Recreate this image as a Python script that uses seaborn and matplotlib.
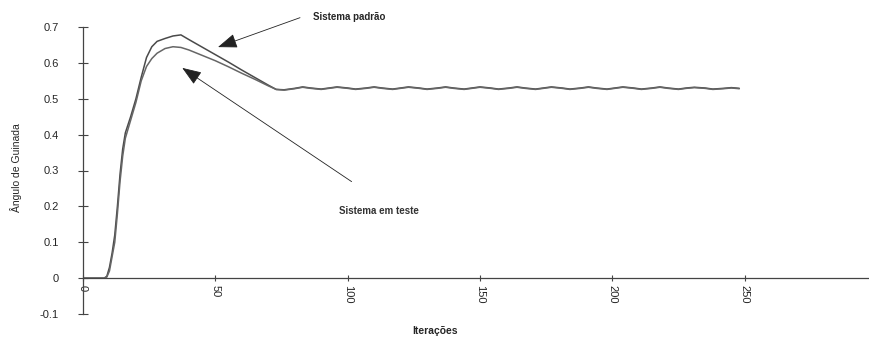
import pandas as pd
import matplotlib.pyplot as plt
import seaborn as sns

sns.set_style('white')
plt.rcParams['font.family'] = ['Liberation Sans', 'DejaVu Sans']

# iterations
iter_rise = [0, 5, 8, 9, 10, 11, 12, 13, 14, 15, 16, 18, 20, 22, 24, 26, 28, 31, 34, 37,
             40, 45, 50, 55, 60, 65, 70, 73]
padrao_rise = [0, 0, 0, 0.005, 0.03, 0.07, 0.12, 0.2, 0.29, 0.36, 0.405, 0.45, 0.5, 0.56,
               0.615, 0.645, 0.66, 0.668, 0.675, 0.678,
               0.665, 0.644, 0.623, 0.602, 0.58, 0.559, 0.538, 0.526]
teste_rise = [0, 0, 0, 0.003, 0.02, 0.06, 0.1, 0.18, 0.27, 0.34, 0.39, 0.44, 0.49, 0.55,
              0.59, 0.612, 0.627, 0.64, 0.645, 0.643,
              0.636, 0.621, 0.606, 0.589, 0.571, 0.554, 0.536, 0.526]

# the small steady-state wobble
iter_tail = [76, 80, 83, 86, 90, 93, 96, 100, 103, 107, 110, 113, 117, 120, 123, 127, 130,
             134, 137, 140, 144, 147, 150, 154, 157, 161, 164, 167, 171, 174, 177, 181, 184,
             188, 191, 194, 198, 201, 204, 208, 211, 215, 218, 221, 225, 228, 231, 235, 238,
             242, 245, 248]
padrao_tail = [0.525, 0.529, 0.533, 0.530, 0.527, 0.530, 0.533, 0.530, 0.527, 0.530, 0.533,
               0.530, 0.527, 0.530, 0.533, 0.530, 0.527, 0.530, 0.533, 0.530, 0.527, 0.530,
               0.533, 0.530, 0.527, 0.530, 0.533, 0.530, 0.527, 0.530, 0.533, 0.530, 0.527,
               0.530, 0.533, 0.530, 0.527, 0.530, 0.533, 0.530, 0.527, 0.530, 0.533, 0.530,
               0.527, 0.530, 0.532, 0.530, 0.527, 0.529, 0.531, 0.529]
teste_tail = [0.524, 0.528, 0.532, 0.529, 0.526, 0.529, 0.532, 0.529, 0.526, 0.529, 0.532,
              0.529, 0.526, 0.529, 0.532, 0.529, 0.526, 0.529, 0.532, 0.529, 0.526, 0.529,
              0.532, 0.529, 0.526, 0.529, 0.532, 0.529, 0.526, 0.529, 0.532, 0.529, 0.526,
              0.529, 0.532, 0.529, 0.526, 0.529, 0.532, 0.529, 0.526, 0.529, 0.532, 0.529,
              0.526, 0.529, 0.531, 0.529, 0.526, 0.528, 0.530, 0.528]

x_ticks = [0, 50, 100, 150, 200, 250]
y_ticks = [-0.1, 0, 0.1, 0.2, 0.3, 0.4, 0.5, 0.6, 0.7]

df = pd.DataFrame({
    'Iteracao': (iter_rise + iter_tail) * 2,
    'Angulo': padrao_rise + padrao_tail + teste_rise + teste_tail,
    'Sistema': ['padrao'] * (len(iter_rise) + len(iter_tail))
               + ['teste'] * (len(iter_rise) + len(iter_tail)),
})

fig = plt.figure(figsize=(8.69, 3.51), dpi=100)
ax = fig.add_axes([83 / 869, 1 - 314 / 351, 1 - 83 / 869, (314 - 27) / 351])

sns.lineplot(data=df, x='Iteracao', y='Angulo', hue='Sistema',
             palette={'padrao': '#4a4a4a', 'teste': '#666666'},
             linewidth=1.1, legend=False, ax=ax)

ax.set_xlim(0, 297)
ax.set_ylim(-0.1, 0.7)
ax.spines['top'].set_visible(False)
ax.spines['right'].set_visible(False)
ax.spines['bottom'].set_position(('data', 0))
ax.spines['bottom'].set_color('#444444')
ax.spines['left'].set_color('#444444')
ax.spines['bottom'].set_linewidth(0.9)
ax.spines['left'].set_linewidth(0.9)

ax.set_xticks(x_ticks)
ax.set_xticklabels([str(t) for t in x_ticks], rotation=-90, fontsize=8)
ax.set_yticks(y_ticks)
ax.set_yticklabels(['-0.1', '0', '0.1', '0.2', '0.3', '0.4', '0.5', '0.6', '0.7'], fontsize=8)
ax.tick_params(axis='y', left=True, direction='inout', length=7, width=0.8,
               color='#444444', pad=14)
ax.tick_params(axis='x', bottom=True, direction='inout', length=4, width=0.8,
               color='#444444', pad=3)
ax.set_xlabel('')
ax.set_ylabel('')

fig.text(435 / 869, 1 - 331 / 351, 'Iterações', ha='center', va='center',
         fontsize=7.5, fontweight='bold')
fig.text(16 / 869, 1 - 168 / 351, 'Ângulo de Guinada', ha='center', va='center',
         rotation=90, fontsize=7.5, fontstretch='condensed')

arrow = dict(arrowstyle='-|>,head_length=1.2,head_width=0.45', color='#222222',
             lw=0.6, shrinkA=0, shrinkB=0)
ax.annotate('', xy=(51, 0.644), xytext=(82, 0.726), arrowprops=arrow,
            annotation_clip=False)
ax.text(87, 0.728, 'Sistema padrão', ha='left', va='center', fontsize=7,
        fontweight='bold', clip_on=False)
ax.annotate('', xy=(37.5, 0.586), xytext=(101.5, 0.269), arrowprops=arrow,
            annotation_clip=False)
ax.text(112, 0.186, 'Sistema em teste', ha='center', va='center', fontsize=7,
        fontweight='bold', color='#333333')

fig.savefig('out.png', dpi=100)
